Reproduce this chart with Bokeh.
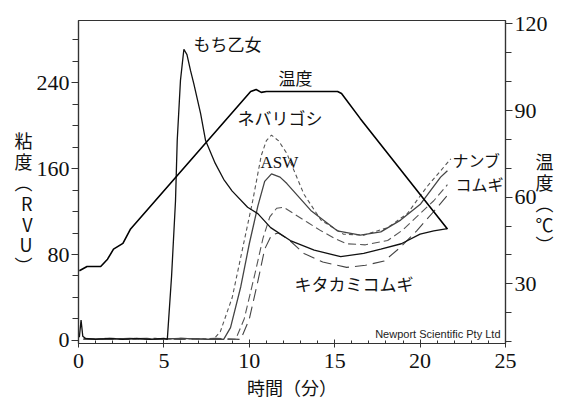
import math
from bokeh.plotting import figure
from bokeh.models import Range1d, LinearAxis, Label, FixedTicker
from bokeh.embed import file_html
from bokeh.resources import INLINE

# ---- data ----
t_temp = [0.05, 0.5, 1.3, 1.7, 2.05, 2.6, 3.05, 10.08, 10.4, 10.7, 11.0, 15.17, 15.4, 16.5, 21.6]
temp_c = [34.5, 36.0, 36.0, 38.5, 42.0, 44.0, 49.0, 96.6, 97.3, 96.3, 96.6, 96.6, 95.9, 87.2, 49.0]

t_mochi = [0.05, 0.15, 0.25, 0.4, 1.0, 1.8, 2.6, 3.4, 4.2, 5.0, 5.2, 5.45, 5.68, 5.78, 5.97, 6.17,
           6.35, 6.56, 6.75, 7.15, 7.44, 8.0, 8.5, 9.0, 9.9, 10.5, 11.25, 12.4, 13.8, 15.35, 16.7,
           17.7, 18.9, 20.0, 20.8, 21.6]
v_mochi = [3, 19, 4, 2, 1, 2, 1, 2, 1, 2, 1, 60, 130, 186, 242, 271,
           266, 251, 239, 211, 186, 165, 150, 139, 124, 118, 105, 93, 84, 78, 81,
           85, 90, 99, 102, 104]

t_nebari = [0.3, 1.5, 3.0, 4.5, 6.0, 7.2, 7.9, 8.3, 9.0, 9.6, 10.2, 10.7, 11.0, 11.3, 11.7, 12.2,
            13.2, 14.2, 15.5, 16.7, 18.1, 19.25, 20.4, 21.8]
v_nebari = [1, 2, 1, 2, 1, 2, 1, 8, 40, 85, 130, 172, 186, 191, 186, 174,
            136, 112, 99, 98, 105, 118, 143, 169]

t_asw = [0.3, 1.5, 3.0, 4.5, 6.0, 7.5, 8.5, 8.9, 9.5, 10.0, 10.5, 10.9, 11.3, 11.8, 12.2, 13.6,
         15.15, 16.5, 17.7, 18.86, 20.03, 21.2, 21.6]
v_asw = [2, 1, 2, 1, 2, 1, 1, 12, 50, 90, 125, 148, 155, 152, 146, 121,
         102, 98, 101, 112, 127, 152, 158]

t_nanbu = [0.3, 2, 4, 6, 8, 9.2, 9.7, 10.3, 10.8, 11.2, 11.6, 12.0, 12.6, 13.4, 14.2, 15.0, 15.7,
           16.8, 18.1, 19.0, 20.0, 20.8, 21.6]
v_nanbu = [1, 2, 1, 2, 1, 1, 20, 60, 95, 115, 123, 124, 118, 110, 102, 95, 90,
           89, 93, 103, 118, 130, 145]

t_kita = [0.3, 2, 4, 6, 8, 9.5, 10.0, 10.5, 10.9, 11.3, 11.7, 12.3, 13.2, 14.3, 15.7, 16.8, 17.9,
          18.8, 19.8, 20.8, 21.6]
v_kita = [1, 1, 2, 1, 2, 1, 20, 55, 85, 98, 100, 94, 81, 73, 68, 70, 74,
          86, 102, 120, 135]

x_ticks = [0, 5, 10, 15, 20, 25]
left_ticks = [0, 80, 160, 240]
right_ticks = [30, 60, 90, 120]

SERIF = "Liberation Serif"
JP = "Noto Sans CJK JP"
BLANK = "\u3000"

p = figure(frame_width=427, frame_height=323,
           min_border_left=78, min_border_right=55, min_border_top=20, min_border_bottom=57,
           x_range=Range1d(0, 25), y_range=Range1d(-2.8, 297.7),
           output_backend="svg", toolbar_location=None)
p.extra_y_ranges = {"temp": Range1d(9.3, 121.2)}
p.grid.visible = False
p.outline_line_color = "#333333"
p.outline_line_width = 1.2
p.background_fill_color = "white"
p.border_fill_color = "white"

# axes
xa = p.xaxis[0]
xa.ticker = FixedTicker(ticks=x_ticks, minor_ticks=[i for i in range(26)])
ya = p.yaxis[0]
ya.ticker = FixedTicker(ticks=left_ticks, minor_ticks=list(range(0, 300, 20)))
ra = LinearAxis(y_range_name="temp",
                ticker=FixedTicker(ticks=right_ticks, minor_ticks=list(range(10, 130, 10))))
p.add_layout(ra, "right")

for ax in (xa, ya, ra):
    ax.axis_line_color = "#333333"
    ax.axis_line_width = 1.2
    ax.major_tick_line_color = "#333333"
    ax.minor_tick_line_color = "#333333"
    ax.major_label_text_font = SERIF
    ax.major_label_text_font_size = "22px"
    ax.major_label_text_color = "#111111"
    ax.axis_label_text_font = JP
    ax.axis_label_text_font_size = "18px"
    ax.axis_label_text_font_style = "normal"
    ax.axis_label_text_color = "#111111"
xa.major_tick_in = 4
xa.major_tick_out = 4
xa.minor_tick_in = 3
xa.minor_tick_out = 0
xa.major_label_standoff = 6
xa.axis_label = "時間（分）"
xa.axis_label_standoff = 3
for ax in (ya, ra):
    ax.major_tick_in = 0
    ax.major_tick_out = 7
    ax.minor_tick_in = 0
    ax.minor_tick_out = 6
    ax.major_label_standoff = 2
    ax.axis_label_orientation = "horizontal"
    ax.axis_label_text_line_height = 0.8

ya.axis_label = "\n".join([BLANK, BLANK, "粘", "度", "︵", "R", "V", "U", "︶"])
ya.axis_label_standoff = 1
ra.axis_label = "\n".join([BLANK, BLANK, "温", "度", "︵", "℃", "︶"])
ra.axis_label_standoff = -15

# curves
p.line(t_kita, v_kita, line_color="#444444", line_width=1.1, line_dash="12 6")
p.line(t_nanbu, v_nanbu, line_color="#555555", line_width=1.1, line_dash="8 4")
p.line(t_nebari, v_nebari, line_color="#555555", line_width=1.1, line_dash="4 3")
p.line(t_asw, v_asw, line_color="#444444", line_width=1.3)
p.line(t_mochi, v_mochi, line_color="#111111", line_width=1.3)
p.line(t_temp, temp_c, line_color="#000000", line_width=1.6, y_range_name="temp")

# helpers for text placed by pixel position of the reference
def tx(px):
    return (px - 78) / 17.08

def ty(py):
    return (340 - py) / 1.075

def lab(text, px, py, size="17px", font=JP, align="left", baseline="middle"):
    p.add_layout(Label(x=tx(px), y=ty(py), text=text, text_font=font, text_font_size=size,
                       text_align=align, text_baseline=baseline, text_color="#111111"))

lab("もち乙女", 193, 43)
lab("温度", 278, 77)
lab("ネバリゴシ", 237, 117)
lab("ASW", 260, 162, font=SERIF)
lab("ナンブ", 452, 159, size="16px")
lab("コムギ", 455, 183, size="16px")
lab("キタカミコムギ", 294, 283)
p.add_layout(Label(x=tx(500), y=0.8, text="Newport Scientific Pty Ltd", text_font="Liberation Sans",
                   text_font_size="11px", text_align="right", text_baseline="bottom",
                   text_color="#222222"))

open("out.html", "w").write(file_html(p, INLINE))
